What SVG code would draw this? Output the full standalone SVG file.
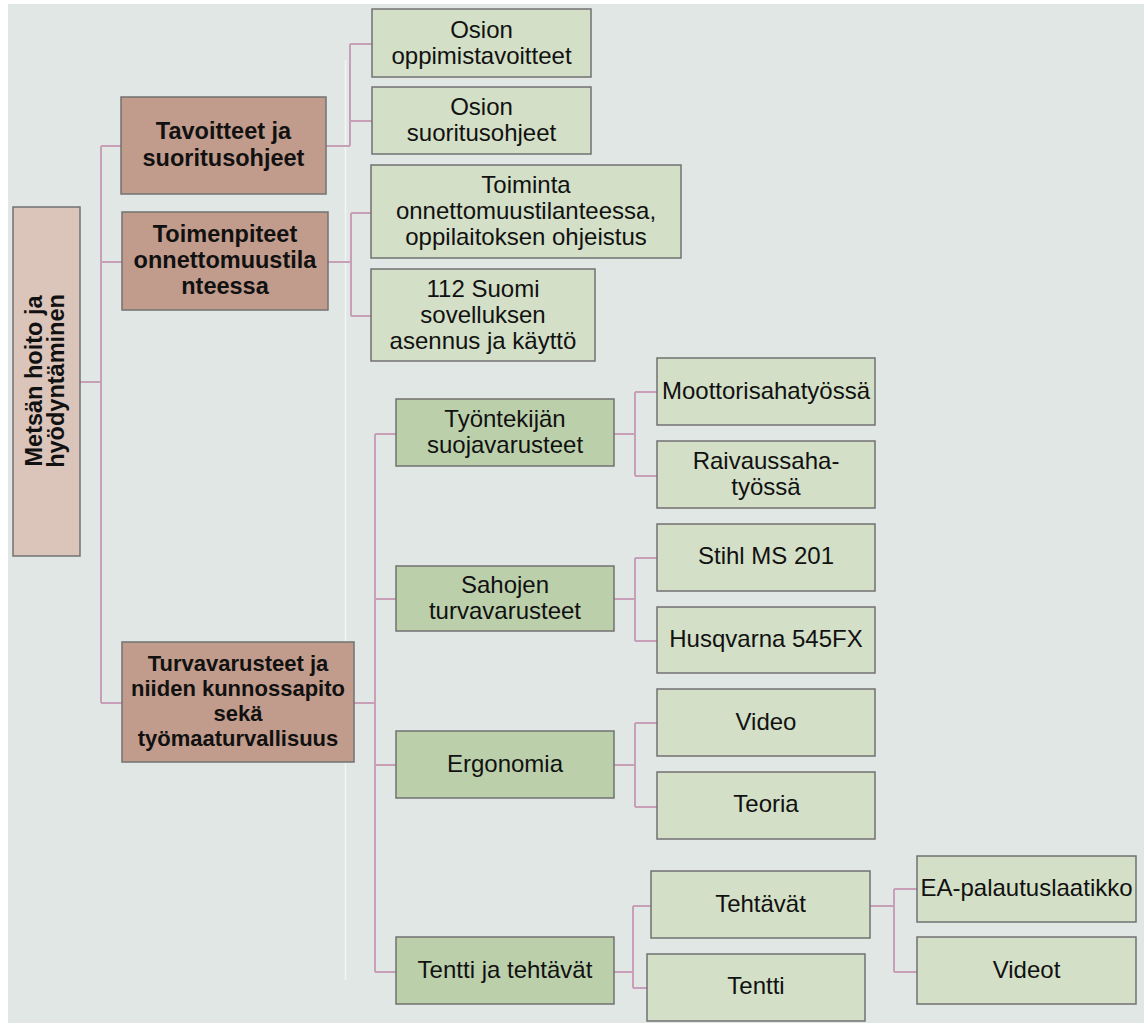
<svg xmlns="http://www.w3.org/2000/svg" width="1144" height="1023" viewBox="0 0 1144 1023">
<style>
text{font-family:"Liberation Sans",Arial,sans-serif;fill:#111;text-anchor:middle}
.r{font-size:24px}
.b{font-size:23.5px;font-weight:bold}
.b2{font-size:22px;font-weight:bold}
rect.n{stroke:#727272;stroke-width:1.5}
.root{fill:#dbc4ba}
.l1{fill:#c19b8b}
.mg{fill:#bccfab}
.lg{fill:#d3dfc6}
#connectors path{fill:none;stroke:#c79fb6;stroke-width:2}
</style>
<rect x="8" y="4" width="1136" height="1019" fill="#e1e7e4"/>
<line x1="345.5" y1="60" x2="345.5" y2="980" stroke="#f2f5f3" stroke-width="1.5"/>
<g id="connectors">
<path d="M80 382H101M101 146V703M101 146H121M101 262H122M101 703H122"/>
<path d="M326 146H350M350 44V146M350 44H372M350 121H372"/>
<path d="M328 262H351M351 213V316M351 213H371M351 316H371"/>
<path d="M354 703H375M375 434V972M375 434H396M375 599H396M375 765H396M375 972H396"/>
<path d="M614 434H635M635 392V476M635 392H657M635 476H657"/>
<path d="M614 599H635M635 558V641M635 558H657M635 641H657"/>
<path d="M614 765H635M635 723V807M635 723H657M635 807H657"/>
<path d="M614 972H633M633 906V988M633 906H651M633 988H647"/>
<path d="M870 906H894M894 889V972M894 889H917M894 972H917"/>
</g>
<g id="n-root"><rect class="n root" x="13" y="207" width="67" height="349"/>
<text class="b" transform="translate(46.5,381) rotate(-90)"><tspan x="0" y="-4.5">Metsän hoito ja</tspan><tspan x="0" y="17.5">hyödyntäminen</tspan></text></g>
<g id="n-tavoitteet"><rect class="n l1" x="121" y="97" width="205" height="97"/>
<text class="b"><tspan x="223.5" y="139">Tavoitteet ja</tspan><tspan x="223.5" y="166">suoritusohjeet</tspan></text></g>
<g id="n-toimenpiteet"><rect class="n l1" x="122" y="212" width="206" height="98"/>
<text class="b"><tspan x="225" y="242">Toimenpiteet</tspan><tspan x="225" y="268">onnettomuustila</tspan><tspan x="225" y="294">nteessa</tspan></text></g>
<g id="n-turva"><rect class="n l1" x="122" y="642" width="232" height="120"/>
<text class="b2"><tspan x="238" y="671">Turvavarusteet ja</tspan><tspan x="238" y="696">niiden kunnossapito</tspan><tspan x="238" y="721">sekä</tspan><tspan x="238" y="746">työmaaturvallisuus</tspan></text></g>
<g id="n-osion1"><rect class="n lg" x="372" y="9" width="219" height="68"/>
<text class="r"><tspan x="481.5" y="38">Osion</tspan><tspan x="481.5" y="64">oppimistavoitteet</tspan></text></g>
<g id="n-osion2"><rect class="n lg" x="372" y="87" width="219" height="67"/>
<text class="r"><tspan x="481.5" y="115">Osion</tspan><tspan x="481.5" y="141">suoritusohjeet</tspan></text></g>
<g id="n-toiminta"><rect class="n lg" x="371" y="165" width="310" height="93"/>
<text class="r"><tspan x="526" y="193">Toiminta</tspan><tspan x="526" y="219">onnettomuustilanteessa,</tspan><tspan x="526" y="245">oppilaitoksen ohjeistus</tspan></text></g>
<g id="n-112"><rect class="n lg" x="371" y="269" width="224" height="92"/>
<text class="r"><tspan x="483" y="296.5">112 Suomi</tspan><tspan x="483" y="322.5">sovelluksen</tspan><tspan x="483" y="348.5">asennus ja käyttö</tspan></text></g>
<g id="n-tyontekijan"><rect class="n mg" x="396" y="399" width="218" height="67"/>
<text class="r"><tspan x="505" y="427">Työntekijän</tspan><tspan x="505" y="453">suojavarusteet</tspan></text></g>
<g id="n-sahojen"><rect class="n mg" x="396" y="566" width="218" height="65"/>
<text class="r"><tspan x="505" y="593">Sahojen</tspan><tspan x="505" y="619">turvavarusteet</tspan></text></g>
<g id="n-ergonomia"><rect class="n mg" x="396" y="731" width="218" height="67"/>
<text class="r" x="505" y="772">Ergonomia</text></g>
<g id="n-tentti-teht"><rect class="n mg" x="396" y="937" width="218" height="67"/>
<text class="r" x="505" y="978">Tentti ja tehtävät</text></g>
<g id="n-moottori"><rect class="n lg" x="657" y="358" width="218" height="67"/>
<text class="r" x="766" y="399">Moottorisahatyössä</text></g>
<g id="n-raivaus"><rect class="n lg" x="657" y="441" width="218" height="67"/>
<text class="r"><tspan x="766" y="469">Raivaussaha-</tspan><tspan x="766" y="495">työssä</tspan></text></g>
<g id="n-stihl"><rect class="n lg" x="657" y="524" width="218" height="67"/>
<text class="r" x="766" y="564">Stihl MS 201</text></g>
<g id="n-husq"><rect class="n lg" x="657" y="607" width="218" height="66"/>
<text class="r" x="766" y="647">Husqvarna 545FX</text></g>
<g id="n-video"><rect class="n lg" x="657" y="689" width="218" height="67"/>
<text class="r" x="766" y="730">Video</text></g>
<g id="n-teoria"><rect class="n lg" x="657" y="772" width="218" height="67"/>
<text class="r" x="766" y="812">Teoria</text></g>
<g id="n-tehtavat"><rect class="n lg" x="651" y="871" width="219" height="67"/>
<text class="r" x="760.5" y="912">Tehtävät</text></g>
<g id="n-tentti"><rect class="n lg" x="647" y="954" width="218" height="67"/>
<text class="r" x="756" y="994">Tentti</text></g>
<g id="n-ea"><rect class="n lg" x="917" y="856" width="219" height="66"/>
<text class="r" x="1026.5" y="896">EA-palautuslaatikko</text></g>
<g id="n-videot"><rect class="n lg" x="917" y="937" width="219" height="67"/>
<text class="r" x="1026.5" y="978">Videot</text></g>
</svg>
